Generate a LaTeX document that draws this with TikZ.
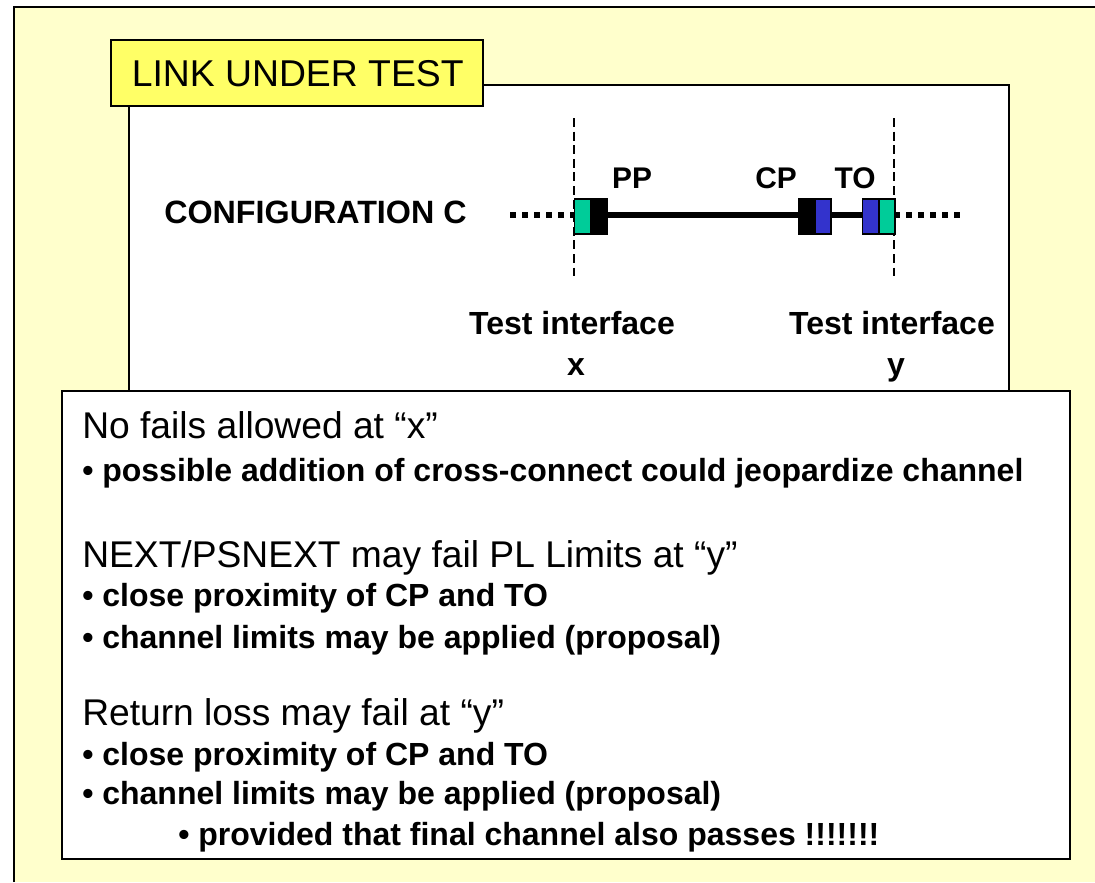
\documentclass[tikz,border=0pt]{standalone}
\usepackage{fontspec}
\setmainfont{Liberation Sans}
\definecolor{pagebg}{HTML}{FFFFCC}
\definecolor{tabbg}{HTML}{FFFF66}
\definecolor{tealc}{HTML}{00CC99}
\definecolor{bluec}{HTML}{3333CC}
\tikzset{
  x=0.75pt,y=-0.75pt,
  panel/.style={draw=black,fill=white,line width=1.6pt},
  tabbox/.style={draw=black,fill=tabbg,line width=1.2pt},
  jack/.style={draw=black,line width=1.4pt,anchor=north west,minimum width=12pt,minimum height=26pt,inner sep=0pt},
  cable/.style={line width=4.2pt},
  dotcable/.style={line width=4.2pt,dash pattern=on 4.3pt off 4.7pt},
  guide/.style={line width=1.1pt,dash pattern=on 6.8pt off 3.4pt},
  big/.style={anchor=base west,inner sep=0pt,font=\fontsize{27.9pt}{32pt}\selectfont},
  tabtext/.style={anchor=base west,inner sep=0pt,font=\fontsize{28pt}{32pt}\selectfont},
  bul/.style={anchor=base west,inner sep=0pt,font=\fontsize{24pt}{28pt}\selectfont\bfseries},
  lab/.style={anchor=base,inner sep=0pt,font=\fontsize{24pt}{28pt}\selectfont\bfseries},
  tag/.style={anchor=base,inner sep=0pt,font=\fontsize{22.4pt}{26pt}\selectfont\bfseries},
}
\begin{document}
\begin{tikzpicture}
\useasboundingbox (0,0) rectangle (1095,882);
\path[fill=pagebg] (14,7) rectangle (1095,882);
\draw[line width=1.6pt] (14,882) -- (14,7) -- (1095,7);
% link panel
\draw[panel] (129,85) rectangle (1009,420);
% tab
\node[tabbox,minimum width=372pt*0.75,minimum height=66pt*0.75,anchor=north west,inner sep=0pt] (tab) at (110,39) {};
\node[tabtext] (tabt) at (131.5,86) {LINK UNDER TEST};
% guides
\coordinate (gxt) at (574,118);
\coordinate (gxb) at (574,276);
\coordinate (gyt) at (894,118);
\coordinate (gyb) at (894,276);
\draw[guide] (gxt) -- (gxb);
\draw[guide] (gyt) -- (gyb);
% cable
\coordinate (dl) at (510,215);
\coordinate (dr) at (960,215);
\coordinate (cl) at (574,215);
\coordinate (cr) at (894,215);
\draw[dotcable] (dl) -- (cl);
\draw[dotcable] (cr) -- (dr);
\draw[cable] (cl) -- (cr);
% jacks
\node[jack,fill=tealc] (j1) at (573.5,198) {};
\node[jack,fill=black] (j2) at (590,198) {};
\node[jack,fill=black] (j3) at (797.5,198) {};
\node[jack,fill=bluec] (j4) at (814,198) {};
\node[jack,fill=bluec] (j5) at (861.5,198) {};
\node[jack,fill=tealc] (j6) at (878,198) {};
% labels
\node[bul,font=\fontsize{24.2pt}{28pt}\selectfont\bfseries] (conf) at (164,223) {CONFIGURATION C};
\node[tag] (pp) at (632,188) {PP};
\node[tag] (cp) at (776,188) {CP};
\node[tag] (to) at (855,188) {TO};
\node[lab] (tx1) at (572,334) {Test interface};
\node[lab] (tx2) at (576,375) {x};
\node[lab] (ty1) at (892,334) {Test interface};
\node[lab] (ty2) at (896,375) {y};
% notes
\draw[panel,line width=1.3pt] (62,391) rectangle (1070,859);
\node[big] (n1) at (82,438) {No fails allowed at “x”};
\node[bul] (n2) at (82,481) {• possible addition of cross-connect could jeopardize channel};
\node[big] (n3) at (82,567) {NEXT/PSNEXT may fail PL Limits at “y”};
\node[bul] (n4) at (82,606) {• close proximity of CP and TO};
\node[bul] (n5) at (82,648) {• channel limits may be applied (proposal)};
\node[big] (n6) at (82,725) {Return loss may fail at “y”};
\node[bul] (n7) at (82,765) {• close proximity of CP and TO};
\node[bul] (n8) at (82,804) {• channel limits may be applied (proposal)};
\node[bul] (n9) at (178,845) {• provided that final channel also passes !!!!!!!};
\end{tikzpicture}
\end{document}
